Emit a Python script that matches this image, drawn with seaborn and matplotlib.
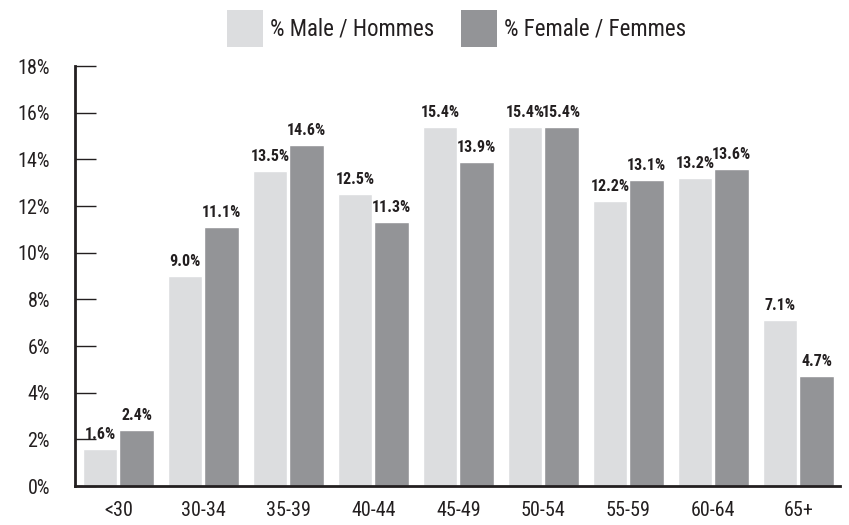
import pandas as pd
import seaborn as sns
import matplotlib.pyplot as plt
from matplotlib.patches import Patch

ages = ["<30", "30-34", "35-39", "40-44", "45-49", "50-54", "55-59", "60-64", "65+"]
male = [1.6, 9.0, 13.5, 12.5, 15.4, 15.4, 12.2, 13.2, 7.1]
female = [2.4, 11.1, 14.6, 11.3, 13.9, 15.4, 13.1, 13.6, 4.7]
series = ["% Male / Hommes", "% Female / Femmes"]
colors = ["#dcdddf", "#939497"]

df = pd.DataFrame({
    "age": ages * 2,
    "pct": male + female,
    "sex": [series[0]] * len(ages) + [series[1]] * len(ages),
})

sns.set_style("white")
plt.rcParams["font.family"] = ["Roboto Condensed", "DejaVu Sans"]
plt.rcParams["font.stretch"] = "condensed"
dark = "#231f20"

fig = plt.figure(figsize=(8.49, 5.25), dpi=100)
ax = fig.add_axes([75 / 849, 1 - 486 / 525, 765 / 849, 420 / 525])

sns.barplot(data=df, x="age", y="pct", hue="sex", palette=colors,
            width=0.86, gap=0.05, legend=False, ax=ax, saturation=1)

for cont in ax.containers:
    ax.bar_label(cont, fmt="%.1f%%", padding=5, fontsize=11.5,
                 fontweight="bold", color=dark)

ax.set_xlim(-0.51, 8.49)
ax.set_ylim(0, 18)
ax.set_yticks(range(0, 19, 2))
ax.set_yticklabels([f"{v}%" for v in range(0, 19, 2)])
ax.set_axisbelow(True)
ax.tick_params(axis="y", direction="in", length=15, width=1, color=dark,
               pad=18, labelsize=14.5, labelcolor=dark, left=True)
ax.tick_params(axis="x", length=0, pad=11, labelsize=14.5, labelcolor=dark)
ax.set_xlabel("")
ax.set_ylabel("")
for side in ["top", "right"]:
    ax.spines[side].set_visible(False)
for side in ["left", "bottom"]:
    ax.spines[side].set_linewidth(2)
    ax.spines[side].set_color(dark)

handles = [Patch(facecolor=c, edgecolor="none") for c in colors]
fig.legend(handles, series, loc="upper center", bbox_to_anchor=(0.538, 1.02),
           ncol=2, frameon=False, fontsize=16.5, handlelength=1.57,
           handleheight=2.11, handletextpad=0.3, columnspacing=1.18,
           labelcolor=dark)

fig.savefig("out.png", dpi=100)
